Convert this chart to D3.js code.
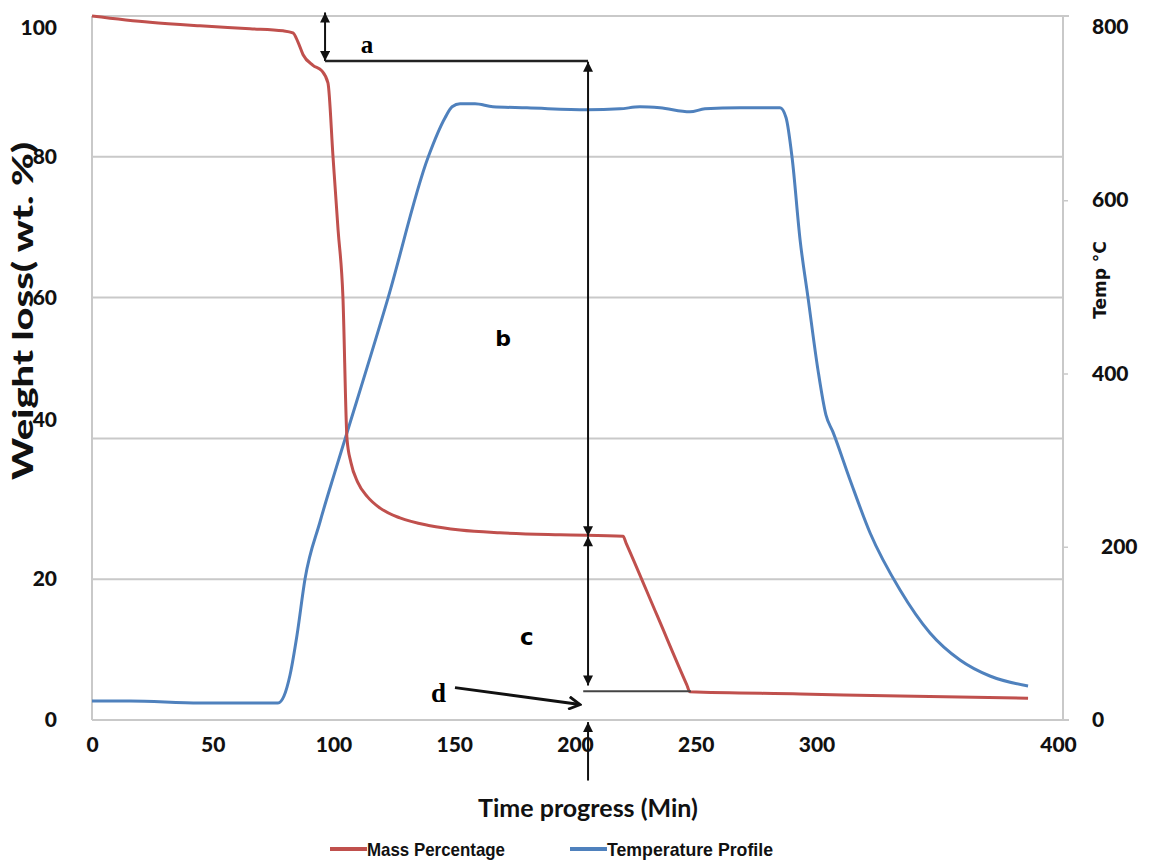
<!DOCTYPE html>
<html>
<head>
<meta charset="utf-8">
<script src="https://cdn.jsdelivr.net/npm/d3@7"></script>
<style>
  html, body { margin: 0; padding: 0; background: #fff; }
  svg { display: block; }
</style>
</head>
<body>
<div id="chart"></div>
<script>
// ---- Data ----
const xTicks = [0, 50, 100, 150, 200, 250, 300, 400];
const leftTicks = [0, 20, 40, 60, 80, 100];
const rightTicks = [0, 200, 400, 600, 800];

// Mass percentage (wt. %) vs time (min)
const massTime = [0, 24, 44.7, 65.4, 79.1, 83.2, 85.3, 87.4, 91.5, 95.2, 97.7, 99.8, 101.9, 103.9, 105.6, 107.2, 110, 114.1, 119.3, 127.5, 140, 152.4, 168.9, 193.8, 219.9, 221.2, 234, 246.3, 247.6, 293.2, 334.6, 387.6];
const massValue = [100, 99.1, 98.6, 98.2, 97.9, 97.6, 96.3, 94.5, 93.0, 92.2, 90.5, 80.0, 69.6, 60.1, 39.9, 36.6, 33.8, 31.7, 30.1, 28.7, 27.6, 27.0, 26.6, 26.3, 26.1, 25.1, 14.85, 5.0, 4.0, 3.7, 3.4, 3.1];

// Temperature profile (°C) vs time (min)
const tempTime = [0, 15.7, 44.7, 77.0, 79.5, 82.0, 84.9, 88.2, 94.4, 100.6, 104.8, 122.6, 139.1, 146.2, 149.1, 152.4, 158.6, 166.0, 180.1, 205.0, 218.6, 226.9, 235.2, 247.6, 253.8, 268.3, 284.9, 287.4, 289.9, 293.2, 296.5, 300.6, 303.9, 306.8, 313.9, 322.2, 334.6, 347.0, 359.4, 371.8, 387.6];
const tempValue = [21.9, 21.9, 19.6, 19.6, 27.7, 52.0, 98.2, 162.8, 228.6, 286.4, 324.5, 487.3, 649.0, 695.2, 707.9, 711.3, 711.3, 707.9, 706.7, 704.4, 705.5, 707.9, 706.7, 702.1, 705.5, 706.7, 706.7, 695.2, 649.0, 554.3, 487.3, 404.2, 352.2, 332.6, 277.1, 215.9, 150.1, 100.5, 69.3, 50.8, 39.3];

const seriesNames = ["Mass Percentage", "Temperature Profile"];

// Annotation anchors in data units (time, wt.%)
const markTime = 205.4;      // b / c vertical arrow
const aTime = 96.5;          // a vertical arrow
const levelA = 93.6, levelB = 26.1, levelC = 4.3, levelD = 4.1;

// ---- Layout ----
const W = 1160, H = 866;
const plotL = 92, plotR = 1063, plotT = 16, plotB = 720;

const svg = d3.select("#chart").append("svg").attr("width", W).attr("height", H);

const x = d3.scaleLinear().domain([0, 400]).range([92, 1058]);
const yL = d3.scaleLinear().domain([0, 100]).range([plotB, plotT]);
const yR = d3.scaleLinear().domain([0, 800]).range([plotB, 27]);

const red = "#c0504d", blue = "#4f81bd", grid = "#c9c9c9";

// gridlines
svg.append("g").selectAll("line").data([20, 40, 60, 80, 100]).join("line")
  .attr("x1", plotL).attr("x2", d => d === 100 ? plotR + 6 : plotR)
  .attr("y1", d => yL(d)).attr("y2", d => yL(d))
  .attr("stroke", grid).attr("stroke-width", 2);
// plot border (left, right, bottom)
svg.append("line").attr("x1", plotL).attr("x2", plotL).attr("y1", plotT).attr("y2", plotB).attr("stroke", grid).attr("stroke-width", 2);
svg.append("line").attr("x1", plotR).attr("x2", plotR).attr("y1", plotT).attr("y2", plotB).attr("stroke", grid).attr("stroke-width", 2);
svg.append("line").attr("x1", plotL).attr("x2", plotR + 6).attr("y1", plotB).attr("y2", plotB).attr("stroke", grid).attr("stroke-width", 2);

// axes
const tickFont = "Lato, 'Open Sans', sans-serif";
const gx = svg.append("g").attr("transform", `translate(0,${plotB})`)
  .call(d3.axisBottom(x).tickValues(xTicks).tickSize(0).tickPadding(17).tickFormat(d3.format("d")));
gx.select(".domain").remove();
gx.selectAll("text").attr("font-family", tickFont).attr("font-weight", 900).attr("font-size", 21).attr("fill", "#111");

const gl = svg.append("g").attr("transform", `translate(${plotL},0)`)
  .call(d3.axisLeft(yL).tickValues(leftTicks).tickSize(0).tickPadding(35));
gl.select(".domain").remove();
gl.selectAll("text").attr("font-family", tickFont).attr("font-weight", 900).attr("font-size", 21).attr("fill", "#111");
gl.selectAll(".tick").filter(d => d === 40).select("text").attr("y", -19);
gl.selectAll(".tick").filter(d => d === 100).select("text").attr("y", 12);

const gr = svg.append("g").attr("transform", `translate(${plotR},0)`)
  .call(d3.axisRight(yR).tickValues(rightTicks).tickSize(5).tickPadding(24));
gr.select(".domain").remove();
gr.selectAll("line").attr("stroke", grid).attr("stroke-width", 1.5);
gr.selectAll(".tick").filter(d => d === 800 || d === 0).select("line").remove();
gr.selectAll("text").attr("font-family", tickFont).attr("font-weight", 900).attr("font-size", 21).attr("fill", "#111");
gr.selectAll(".tick").filter(d => d === 200).select("text").attr("x", 38);

// axis titles
svg.append("text").attr("transform", "translate(33,311) rotate(-90)")
  .attr("text-anchor", "middle").attr("font-family", tickFont).attr("font-weight", 900)
  .attr("font-size", 28).attr("textLength", 338).attr("lengthAdjust", "spacingAndGlyphs")
  .attr("fill", "#111").text("Weight loss( wt. %)");
svg.append("text").attr("transform", "translate(1106,280) rotate(-90)")
  .attr("text-anchor", "middle").attr("font-family", "'DejaVu Sans', sans-serif").attr("font-weight", "bold")
  .attr("font-size", 17).attr("fill", "#111").text("Temp °C");
svg.append("text").attr("x", 588).attr("y", 817)
  .attr("text-anchor", "middle").attr("font-family", tickFont).attr("font-weight", 700)
  .attr("font-size", 25).attr("fill", "#111").text("Time progress (Min)");

// series lines
const massData = massTime.map((t, i) => [t, massValue[i]]);
const tempData = tempTime.map((t, i) => [t, tempValue[i]]);
svg.append("path").datum(tempData)
  .attr("d", d3.line().x(d => x(d[0])).y(d => yR(d[1])).curve(d3.curveMonotoneX))
  .attr("fill", "none").attr("stroke", blue).attr("stroke-width", 3);
svg.append("path").datum(massData)
  .attr("d", d3.line().x(d => x(d[0])).y(d => yL(d[1])).curve(d3.curveMonotoneX))
  .attr("fill", "none").attr("stroke", red).attr("stroke-width", 3);

// arrow markers
const defs = svg.append("defs");
defs.append("marker").attr("id", "tri").attr("viewBox", "0 0 10 10").attr("refX", 10).attr("refY", 5)
  .attr("markerWidth", 12).attr("markerHeight", 10).attr("markerUnits", "userSpaceOnUse").attr("orient", "auto-start-reverse")
  .append("path").attr("d", "M0,0 L10,5 L0,10 z").attr("fill", "#111");
defs.append("marker").attr("id", "chev").attr("viewBox", "0 0 10 10").attr("refX", 9).attr("refY", 5)
  .attr("markerWidth", 16).attr("markerHeight", 14).attr("markerUnits", "userSpaceOnUse").attr("orient", "auto")
  .append("path").attr("d", "M1,0.5 L9,5 L1,9.5").attr("fill", "none").attr("stroke", "#111").attr("stroke-width", 2);

const ann = svg.append("g");
function seg(t1, v1, t2, v2, opts) {
  const l = ann.append("line").attr("x1", x(t1)).attr("y1", yL(v1)).attr("x2", x(t2)).attr("y2", yL(v2))
    .attr("stroke", opts.color || "#111").attr("stroke-width", opts.w || 2);
  if (opts.start) l.attr("marker-start", `url(#${opts.start})`);
  if (opts.end) l.attr("marker-end", `url(#${opts.end})`);
  return l;
}
// a
seg(aTime, 100.5, aTime, levelA, { start: "tri", end: "tri" });
seg(aTime, levelA, markTime, levelA, { w: 2.5, color: "#222" });
// b
seg(markTime, levelA - 0.1, markTime, levelB, { start: "tri", end: "tri" });
// c
seg(markTime, levelB, markTime, levelC + 0.6, { start: "tri", end: "tri" });
// d line
seg(markTime - 2, levelD, 248, levelD, { w: 2, color: "#444" });
seg(150.3, 4.6, 202.1, 2.2, { w: 3, end: "chev" });
// bottom up arrow
seg(markTime, -8.6, markTime, -0.3, { end: "tri" });

// labels
ann.append("text").attr("x", x(113.9)).attr("y", yL(95.9)).attr("text-anchor", "middle").attr("dominant-baseline", "central")
  .attr("font-family", "'Liberation Serif', serif").attr("font-weight", "bold").attr("font-size", 25).text("a");
ann.append("text").attr("x", x(170.2)).attr("y", yL(54.2)).attr("text-anchor", "middle").attr("dominant-baseline", "central")
  .attr("font-family", "'DejaVu Sans', sans-serif").attr("font-weight", "bold").attr("font-size", 22).text("b");
ann.append("text").attr("x", x(180.1)).attr("y", yL(11.8)).attr("text-anchor", "middle").attr("dominant-baseline", "central")
  .attr("font-family", "'DejaVu Sans', sans-serif").attr("font-weight", "bold").attr("font-size", 23).text("c");
ann.append("text").attr("x", x(143.5)).attr("y", yL(3.8)).attr("text-anchor", "middle").attr("dominant-baseline", "central")
  .attr("font-family", "'Liberation Serif', serif").attr("font-weight", "bold").attr("font-size", 27).text("d");

// legend
const leg = svg.append("g").attr("transform", "translate(0,849)");
const legItems = [{ name: seriesNames[0], color: red, x0: 330, len: 138 }, { name: seriesNames[1], color: blue, x0: 570, len: 166 }];
legItems.forEach(it => {
  leg.append("line").attr("x1", it.x0).attr("x2", it.x0 + 37).attr("y1", 0).attr("y2", 0)
    .attr("stroke", it.color).attr("stroke-width", 4);
  leg.append("text").attr("x", it.x0 + 37).attr("y", 0).attr("dominant-baseline", "central")
    .attr("font-family", "'Liberation Sans Narrow', 'Arial Narrow', sans-serif").attr("font-weight", "bold")
    .attr("font-size", 19).attr("textLength", it.len).attr("lengthAdjust", "spacingAndGlyphs")
    .attr("fill", "#111").text(it.name);
});
</script>
</body>
</html>
